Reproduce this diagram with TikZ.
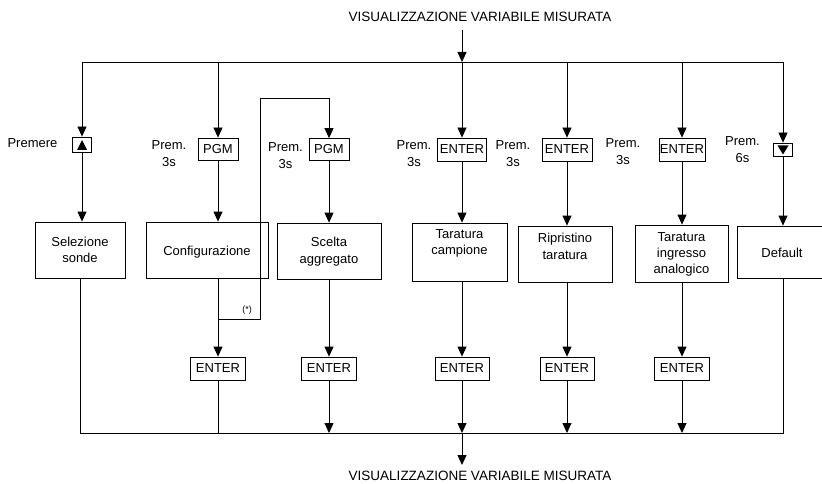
\documentclass[tikz,border=0pt]{standalone}
\usepackage{fontspec}
\setmainfont{Liberation Sans}
\usetikzlibrary{arrows.meta,calc}
\begin{document}
\begin{tikzpicture}[x=1pt,y=-1pt,line width=0.8pt,
  box/.style={draw,inner sep=0pt,font=\fontsize{13}{16}\selectfont},
  txt/.style={inner sep=0pt,align=center,font=\fontsize{13}{16.5}\selectfont},
  lbl/.style={inner sep=0pt,align=center,font=\fontsize{13}{17}\selectfont},
  ttl/.style={inner sep=0pt,font=\fontsize{13.5}{16}\selectfont},
  arr/.style={-{Triangle[length=10pt,width=9pt]}}]
\useasboundingbox (0,0) rectangle (822,484);

% titles
\node[ttl] (ttop) at (480,17) {VISUALIZZAZIONE VARIABILE MISURATA};
\node[ttl] (tbot) at (480,476) {VISUALIZZAZIONE VARIABILE MISURATA};

% key buttons
\node[box,minimum width=19,minimum height=15] (up) at (82,144.5) {};
\node[box,minimum width=40,minimum height=22] (pgm1) at (218,149) {PGM};
\node[box,minimum width=40,minimum height=22] (pgm2) at (329,149.5) {PGM};
\node[box,minimum width=49,minimum height=23] (ent1) at (462,149.5) {ENTER};
\node[box,minimum width=50,minimum height=23] (ent2) at (567,149.5) {ENTER};
\node[box,minimum width=46,minimum height=23] (ent3) at (682,149.5) {ENTER};
\node[box,minimum width=19,minimum height=13] (down) at (783,149.5) {};
\fill ($(up.center)+(-5,5.5)$) -- ($(up.center)+(5,5.5)$) -- ($(up.center)+(0,-4.5)$) -- cycle;
\fill ($(down.center)+(-5.5,-4)$) -- ($(down.center)+(5.5,-4)$) -- ($(down.center)+(0,5)$) -- cycle;

% labels
\node[lbl] (lpre) at (32.5,143) {Premere};
\node[lbl] (l2) at (169,153.5) {Prem.\\3s};
\node[lbl] (l3) at (285.5,156) {Prem.\\3s};
\node[lbl] (l4) at (414,154) {Prem.\\3s};
\node[lbl] (l5) at (513,154) {Prem.\\3s};
\node[lbl] (l6) at (623,151.5) {Prem.\\3s};
\node[lbl] (l7) at (742.5,149.5) {Prem.\\6s};

% function boxes
\node[box,minimum width=90,minimum height=56] (sel) at (80,250) {};
\node[box,minimum width=122,minimum height=56] (conf) at (207,250) {};
\node[box,minimum width=104,minimum height=56] (scel) at (329,251) {};
\node[box,minimum width=95,minimum height=58] (tcamp) at (459.5,252) {};
\node[box,minimum width=94,minimum height=56] (rip) at (565,254) {};
\node[box,minimum width=93,minimum height=57] (ting) at (681.5,253.5) {};
\node[box,minimum width=90,minimum height=52] (def) at (782,252) {};

\node[txt] (tsel) at (80,250) {Selezione\\sonde};
\node[txt] (tconf) at (207,252) {Configurazione};
\node[txt] (tscel) at (329,251.5) {Scelta\\aggregato};
\node[txt] (ttcamp) at (459.5,243.5) {Taratura\\campione};
\node[txt] (trip) at (565,246.5) {Ripristino\\taratura};
\node[txt,font=\fontsize{13}{16}\selectfont] (tting) at (681.5,254.5) {Taratura\\ingresso\\analogico};
\node[txt] (tdef) at (782,253) {Default};

% bottom ENTER keys
\node[box,minimum width=55,minimum height=23] (e2) at (218,368.5) {ENTER};
\node[box,minimum width=55,minimum height=23] (e3) at (329,368.5) {ENTER};
\node[box,minimum width=54,minimum height=23] (e4) at (462,368.5) {ENTER};
\node[box,minimum width=54,minimum height=23] (e5) at (567,368.5) {ENTER};
\node[box,minimum width=55,minimum height=23] (e6) at (682,368.5) {ENTER};

\node[inner sep=0pt,font=\fontsize{9}{10}\selectfont] (star) at (247,310) {(*)};

% coordinates
\coordinate (a0) at (462,30);
\coordinate (tl) at (82,62);
\coordinate (tr) at (783,62);
\coordinate (tm) at (462,62);
\coordinate (bl) at (80,433);
\coordinate (br) at (783,433);
\coordinate (bm) at (462,433);
\coordinate (a1) at (462,465);
\coordinate (lp1) at (218,319);
\coordinate (lp2) at (260,319);
\coordinate (lp3) at (260,98);

% top distribution
\draw (tl) -- (tr);
\draw[arr] (a0) -- (tm);
\draw[arr] (tl) -- (up.north);
\draw[arr] (pgm1.north |- tl) -- (pgm1.north);
\draw[arr] (tm) -- (ent1.north);
\draw[arr] (ent2.north |- tl) -- (ent2.north);
\draw[arr] (ent3.north |- tl) -- (ent3.north);
\draw[arr] (tr) -- (down.north);

% keys to functions
\draw[arr] (up.south) -- (up.south |- sel.north);
\draw[arr] (pgm1.south) -- (pgm1.south |- conf.north);
\draw[arr] (pgm2.south) -- (pgm2.south |- scel.north);
\draw[arr] (ent1.south) -- (ent1.south |- tcamp.north);
\draw[arr] (ent2.south) -- (ent2.south |- rip.north);
\draw[arr] (ent3.south) -- (ent3.south |- ting.north);
\draw[arr] (down.south) -- (down.south |- def.north);

% functions to ENTER
\draw[arr] (conf.south -| e2) -- (e2.north);
\draw[arr] (scel.south -| e3) -- (e3.north);
\draw[arr] (tcamp.south -| e4) -- (e4.north);
\draw[arr] (rip.south -| e5) -- (e5.north);
\draw[arr] (ting.south -| e6) -- (e6.north);

% loop (*)
\draw[arr] (lp1) -- (lp2) -- (lp3) -- (pgm2.north |- lp3) -- (pgm2.north);

% bottom collection
\draw (sel.south -| bl) -- (bl) -- (br) -- (def.south -| br);
\draw (e2.south) -- (e2.south |- bl);
\draw[arr] (e3.south) -- (e3.south |- bl);
\draw[arr] (e4.south) -- (bm);
\draw[arr] (bm) -- (a1);
\draw[arr] (e5.south) -- (e5.south |- bl);
\draw[arr] (e6.south) -- (e6.south |- bl);
\end{tikzpicture}
\end{document}
